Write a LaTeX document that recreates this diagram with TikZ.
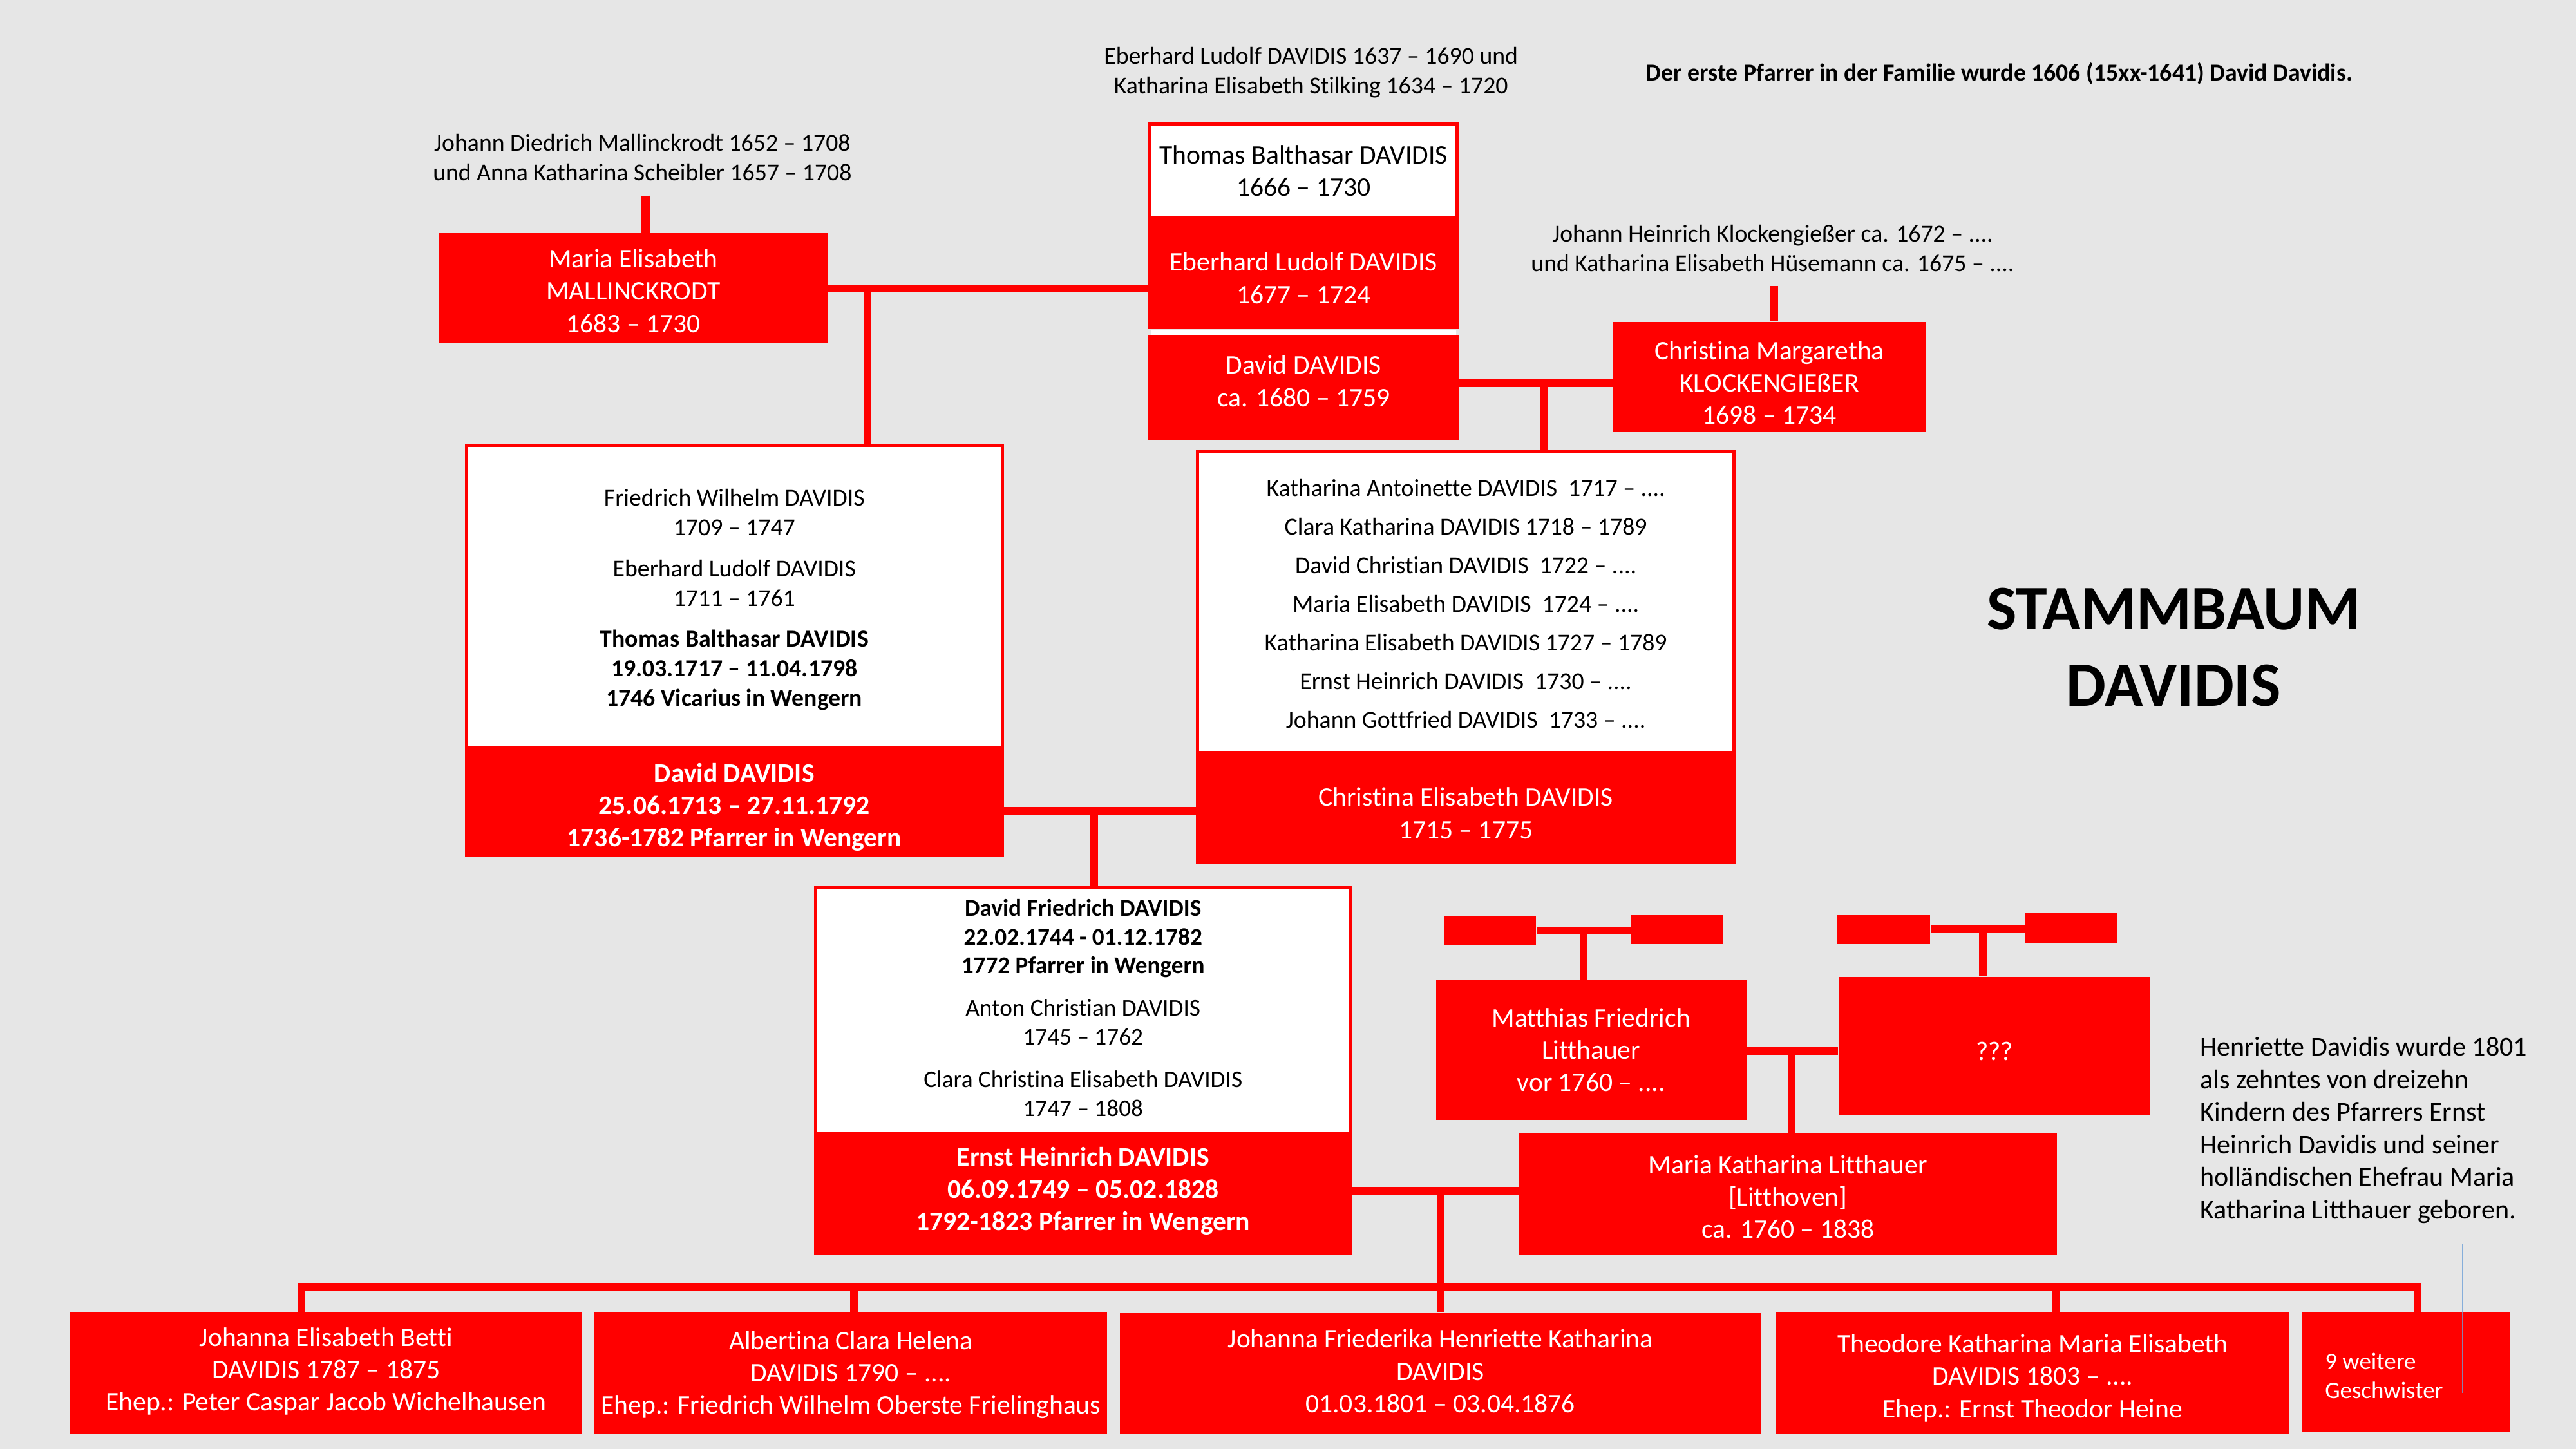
\documentclass[tikz,border=0pt]{standalone}
\usepackage{fontspec}
\setmainfont{Carlito}[Ligatures=NoCommon]
\usetikzlibrary{calc}
\newcommand\fsm{\fontsize{14.8}{18}\selectfont}
\newcommand\fbg{\fontsize{16.3}{19.7}\selectfont}
\newcommand\fttl{\fontsize{38.5}{46.6}\selectfont\bfseries}
\newcommand\fpar{\fontsize{16.5}{19.8}\selectfont}
\newcommand\dsp{\hspace{0.45em}}
\definecolor{bggray}{RGB}{230,230,230}
\definecolor{thinblue}{RGB}{110,160,215}
\tikzset{
  redbox/.style={fill=red, inner sep=0pt},
  whitebox/.style={fill=white, draw=red, line width=2pt, inner sep=0pt},
  rt/.style={text=white, inner sep=0pt, align=center, font=\fbg},
  wt/.style={text=black, inner sep=0pt, align=center, font=\fsm},
  conn/.style={draw=red, line width=4.8pt, line join=miter},
  txt/.style={inner sep=0pt, align=center, font=\fsm, text=black},
}
\begin{document}
\begin{tikzpicture}[x=1pt,y=-1pt]
\fill[bggray] (0,0) rectangle (1568,882);
\useasboundingbox (0,0) rectangle (1568,882);

% ---------- top texts ----------
\node[txt] (mallpar) at (391,96) {Johann Diedrich Mallinckrodt 1652 – 1708\\und Anna Katharina Scheibler 1657 – 1708};
\node[txt] (ebpar) at (798,44) {Eberhard Ludolf DAVIDIS 1637 – 1690 und\\Katharina Elisabeth Stilking 1634 – 1720};
\node[txt] (klpar) at (1079,151) {Johann Heinrich Klockengießer ca. 1672 – ....\\und Katharina Elisabeth Hüsemann ca. 1675 – ....};
\node[txt, font=\fsm\bfseries] (note) at (1217,45) {Der erste Pfarrer in der Familie wurde 1606 (15xx-1641) David Davidis.};
\node[txt, font=\fttl] (title) at (1323,394) {STAMMBAUM\\DAVIDIS};
\node[inner sep=0pt, anchor=west, align=left, font=\fpar] (para) at (1339,688) {Henriette Davidis wurde 1801\\als zehntes von dreizehn\\Kindern des Pfarrers Ernst\\Heinrich Davidis und seiner\\holländischen Ehefrau Maria\\Katharina Litthauer geboren.};

% ---------- generation 1 ----------
\node[redbox, minimum width=237pt, minimum height=67pt] (mall) at (385.5,175.5) {};
\node[rt, yshift=-1.5pt] (mallT) at (mall) {Maria Elisabeth\\MALLINCKRODT\\1683 – 1730};
\node[whitebox, minimum width=187pt, minimum height=57pt] (thomas) at (793.5,104) {};
\node[wt, font=\fbg] (thomasT) at (thomas) {Thomas Balthasar DAVIDIS\\1666 – 1730};
\node[redbox, minimum width=189pt, minimum height=67.5pt] (ebl) at (793.5,166.75) {};
\node[rt, yshift=-2.5pt] (eblT) at (ebl) {Eberhard Ludolf DAVIDIS\\1677 – 1724};
\node[redbox, minimum width=189pt, minimum height=64pt] (dav1) at (793.5,236) {};
\node[rt, yshift=4pt] (dav1T) at (dav1) {David DAVIDIS\\ca. 1680 – 1759};
\fill[white] ($(ebl.south west)+(2,0)$) rectangle ($(dav1.north east)+(-2,0)$);
\node[redbox, minimum width=190pt, minimum height=67pt] (chm) at (1077,229.5) {};
\node[rt, yshift=-3.5pt] (chmT) at (chm) {Christina Margaretha\\KLOCKENGIEßER\\1698 – 1734};

% ---------- generation 2 ----------
\node[whitebox, minimum width=326pt, minimum height=184pt] (fw) at (447,363) {};
\node[wt, yshift=-2pt] (fwT) at (fw) {Friedrich Wilhelm DAVIDIS\\1709 – 1747\\[7pt]Eberhard Ludolf DAVIDIS\\1711 – 1761\\[7pt]\textbf{Thomas Balthasar DAVIDIS}\\\textbf{19.03.1717 – 11.04.1798}\\\textbf{1746 Vicarius in Wengern}};
\node[redbox, minimum width=328pt, minimum height=66.5pt] (dd) at (447,488.25) {};
\node[rt, font=\fbg\bfseries, yshift=-3pt] (ddT) at (dd) {David DAVIDIS\\25.06.1713 – 27.11.1792\\1736-1782 Pfarrer in Wengern};
\node[whitebox, minimum width=326.5pt, minimum height=183pt] (kat) at (892.25,366.5) {};
\node[wt, yshift=-1pt] (katT) at (kat) {Katharina Antoinette DAVIDIS\dsp 1717 – ....\\[5.5pt]Clara Katharina DAVIDIS 1718 – 1789\\[5.5pt]David Christian DAVIDIS\dsp 1722 – ....\\[5.5pt]Maria Elisabeth DAVIDIS\dsp 1724 – ....\\[5.5pt]Katharina Elisabeth DAVIDIS 1727 – 1789\\[5.5pt]Ernst Heinrich DAVIDIS\dsp 1730 – ....\\[5.5pt]Johann Gottfried DAVIDIS\dsp 1733 – ....};
\node[redbox, minimum width=328.5pt, minimum height=68pt] (ce) at (892.25,492) {};
\node[rt, yshift=-3pt] (ceT) at (ce) {Christina Elisabeth DAVIDIS\\1715 – 1775};

% ---------- generation 3 ----------
\node[whitebox, minimum width=325.5pt, minimum height=150pt] (dfw) at (659.25,615) {};
\node[wt, font=\fontsize{14.6}{17.5}\selectfont, yshift=1.5pt] (dfwT) at (dfw) {\textbf{David Friedrich DAVIDIS}\\\textbf{22.02.1744 - 01.12.1782}\\\textbf{1772 Pfarrer in Wengern}\\[8.5pt]Anton Christian DAVIDIS\\1745 – 1762\\[8.5pt]Clara Christina Elisabeth DAVIDIS\\1747 – 1808};
\node[redbox, minimum width=327.5pt, minimum height=74pt] (eh) at (659.25,727) {};
\node[rt, font=\fbg\bfseries, yshift=2pt] (ehT) at (eh) {Ernst Heinrich DAVIDIS\\06.09.1749 – 05.02.1828\\1792-1823 Pfarrer in Wengern};

\node[redbox, minimum width=56pt, minimum height=17.5pt] (mpl) at (907,566.25) {};
\node[redbox, minimum width=56pt, minimum height=17.5pt] (mpr) at (1021,565.75) {};
\node[redbox, minimum width=56.5pt, minimum height=17.5pt] (qpl) at (1146.75,565.75) {};
\node[redbox, minimum width=56pt, minimum height=18pt] (qpr) at (1260.5,565) {};
\node[redbox, minimum width=189pt, minimum height=85pt] (mat) at (968.5,639) {};
\node[rt] (matT) at (mat) {Matthias Friedrich\\Litthauer\\vor 1760 – ....};
\node[redbox, minimum width=190pt, minimum height=84.5pt] (q) at (1214,636.75) {};
\node[rt, yshift=-3pt] (qT) at (q) {???};
\node[redbox, minimum width=327.5pt, minimum height=74pt] (mk) at (1088.25,727) {};
\node[rt, yshift=-1.5pt] (mkT) at (mk) {Maria Katharina Litthauer\\{[}Litthoven{]}\\ca. 1760 – 1838};

% ---------- children ----------
\node[redbox, minimum width=312pt, minimum height=73.5pt] (ch1) at (198.5,835.75) {};
\node[rt, yshift=1pt] (ch1T) at (ch1) {Johanna Elisabeth Betti\\DAVIDIS 1787 – 1875\\Ehep.: Peter Caspar Jacob Wichelhausen};
\node[redbox, minimum width=312pt, minimum height=73.5pt] (ch2) at (518,835.75) {};
\node[rt, yshift=-1pt] (ch2T) at (ch2) {Albertina Clara Helena\\DAVIDIS 1790 – ....\\Ehep.: Friedrich Wilhelm Oberste Frielinghaus};
\node[redbox, minimum width=390pt, minimum height=73.5pt] (ch3) at (876.75,836) {};
\node[rt, yshift=1.5pt] (ch3T) at (ch3) {Johanna Friederika Henriette Katharina\\DAVIDIS\\01.03.1801 – 03.04.1876};
\node[redbox, minimum width=312.5pt, minimum height=73.5pt] (ch4) at (1237.25,835.75) {};
\node[rt, yshift=-3pt] (ch4T) at (ch4) {Theodore Katharina Maria Elisabeth\\DAVIDIS 1803 – ....\\Ehep.: Ernst Theodor Heine};
\node[redbox, minimum width=126.5pt, minimum height=73pt] (ch5) at (1464.25,835.2) {};
\node[inner sep=0pt, anchor=west, align=left, text=white, font=\fontsize{14.5}{17.5}\selectfont] (ch5T) at (1415,837.5) {9 weitere\\Geschwister};

% ---------- connectors ----------
\coordinate (mallstem) at (393,119);
\draw[conn] (mallstem) -- (mallstem |- mall.north);
\coordinate (j1) at (528,175.5);
\draw[conn] (mall.east) -- (mall.east -| ebl.west);
\draw[conn] (j1) -- (j1 |- fw.north);

\coordinate (j2) at (940,233);
\draw[conn] (dav1.east |- j2) -- (j2 -| chm.west);
\draw[conn] (j2) -- (j2 |- kat.north);
\coordinate (klstem) at (1080,174);
\draw[conn] (klstem) -- (klstem |- chm.north);

\coordinate (j3) at (666,493.5);
\draw[conn] (dd.east |- j3) -- (j3 -| ce.west);
\draw[conn] (j3) -- (j3 |- dfw.north);

\coordinate (j5) at (964,566.5);
\draw[conn] (mpl.east |- j5) -- (j5 -| mpr.west);
\draw[conn] (j5) -- (j5 |- mat.north);
\coordinate (j7) at (1207,565.5);
\draw[conn] (qpl.east |- j7) -- (j7 -| qpr.west);
\draw[conn] (j7) -- (j7 |- q.north);

\coordinate (j6) at (1090.5,639.5);
\draw[conn] (mat.east |- j6) -- (j6 -| q.west);
\draw[conn] (j6) -- (j6 |- mk.north);

\coordinate (j4) at (877,725);
\draw[conn] (eh.east |- j4) -- (j4 -| mk.west);
\draw[conn] (j4) -- (j4 |- ch3.north);

\coordinate (barL) at (183.5,783.5);
\coordinate (barR) at (1471.5,783.5);
\draw[conn] (barL |- ch1.north) -- (barL) -- (barR) -- (barR |- ch5.north);
\coordinate (s2) at (520,783.5);
\draw[conn] (s2) -- (s2 |- ch2.north);
\coordinate (s4) at (1251.5,783.5);
\draw[conn] (s4) -- (s4 |- ch4.north);

\coordinate (bl1) at (1499,757);
\coordinate (bl2) at (1499,848);
\draw[thinblue, line width=0.9pt, opacity=0.8] (bl1) -- (bl2);
\end{tikzpicture}
\end{document}
